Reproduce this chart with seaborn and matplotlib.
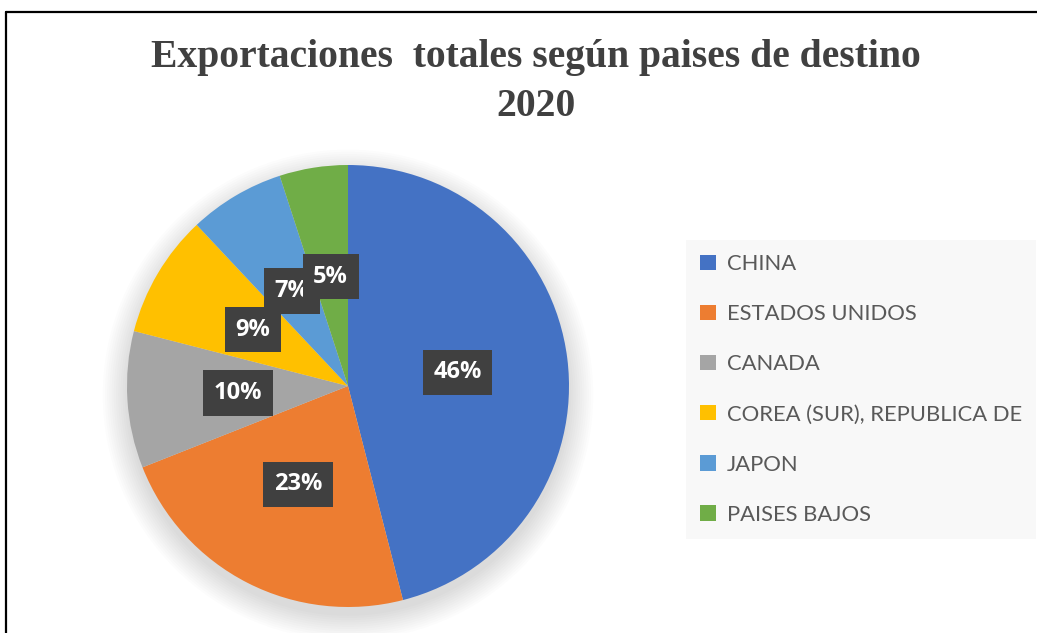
import matplotlib
matplotlib.use("Agg")
import matplotlib.pyplot as plt
import seaborn as sns
from matplotlib.patches import Patch, Circle
from matplotlib.lines import Line2D

# data
paises = ["CHINA", "ESTADOS UNIDOS", "CANADA", "COREA (SUR), REPUBLICA DE", "JAPON", "PAISES BAJOS"]
porcentajes = [46, 23, 10, 9, 7, 5]
colores = ["#4472C4", "#ED7D31", "#A5A5A5", "#FFC000", "#5B9BD5", "#70AD47"]
titulo = "Exportaciones  totales según paises de destino\n2020"

sns.set_theme(style="white")
palette = sns.color_palette(colores)

fig = plt.figure(figsize=(10.37, 6.33), dpi=100)

# pie axes placed so the circle sits where it does in the reference
cx, cy, r = 348, 386, 221
ax = fig.add_axes([(cx - r) / 1037, (633 - cy - r) / 633, 2 * r / 1037, 2 * r / 633])

# soft shadow behind the pie
for i in range(12):
    ax.add_patch(Circle((0.0, -0.04), 1.0 + 0.01 * i, color="black",
                        alpha=0.011, lw=0, zorder=0, clip_on=False))

wedges, texts, autotexts = ax.pie(
    porcentajes, colors=palette, startangle=90, counterclock=False,
    autopct="%1.0f%%", pctdistance=0.5,
    wedgeprops=dict(linewidth=0, zorder=2),
    textprops=dict(color="white", fontsize=17, fontweight="bold", family="Open Sans"),
)
for t in autotexts:
    t.set_zorder(5)
    t.set_bbox(dict(boxstyle="square,pad=0.45", facecolor="#404040", edgecolor="none"))
ax.set_xlim(-1, 1)
ax.set_ylim(-1, 1)
ax.set_aspect("equal")
ax.axis("off")

fig.text(536 / 1037, 1 - 82 / 633, titulo, ha="center", va="center",
         fontsize=28.5, fontweight="bold", family="Liberation Serif",
         color="#404040", linespacing=1.45)

handles = [Patch(facecolor=c, edgecolor="none") for c in palette]
leg = fig.legend(handles, paises, loc="upper left",
                 bbox_to_anchor=(686 / 1037, 1 - 240 / 633), borderaxespad=0,
                 frameon=True, facecolor="#F8F8F8", edgecolor="none", framealpha=1,
                 fancybox=False, handlelength=0.7, handleheight=0.7, handletextpad=0.5,
                 labelspacing=1.37, borderpad=0.65,
                 prop=dict(family="Lato", size=15.8))
for t in leg.get_texts():
    t.set_color("#595959")

# outer frame (left and top edges visible in the reference)
fig.add_artist(Line2D([6 / 1037, 6 / 1037], [0, 1 - 12 / 633], color="black", lw=1.6))
fig.add_artist(Line2D([6 / 1037, 1], [1 - 12 / 633, 1 - 12 / 633], color="black", lw=1.6))

plt.savefig("out.png", dpi=100)
plt.close()
